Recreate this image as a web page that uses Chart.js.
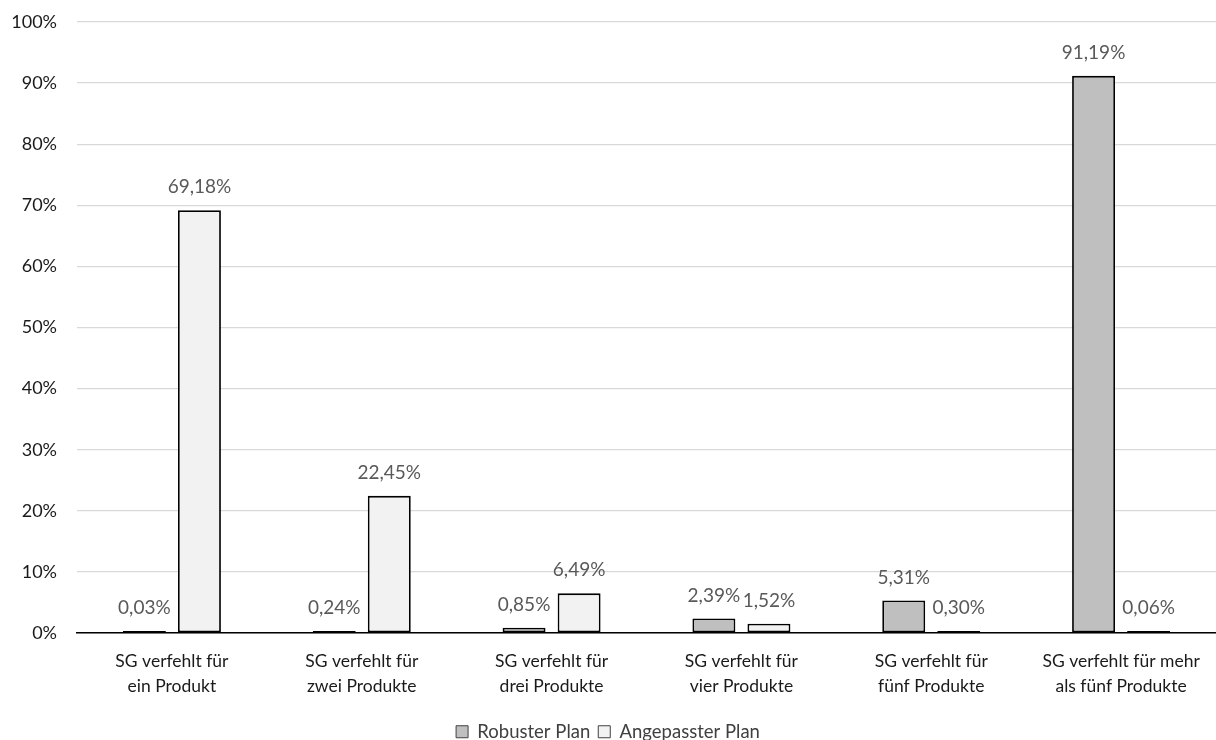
<!DOCTYPE html>
<html>
<head>
<meta charset="utf-8">
<script src="https://cdn.jsdelivr.net/npm/chart.js@4/dist/chart.umd.min.js"></script>
<style>
  html, body { margin: 0; padding: 0; background: #fff; }
  #wrap { width: 1216px; height: 740px; }
</style>
</head>
<body>
<div id="wrap"><canvas id="c" width="1216" height="740"></canvas></div>
<script>
// Categories (two-line axis labels)
const categories = [
  ["SG verfehlt für", "ein Produkt"],
  ["SG verfehlt für", "zwei Produkte"],
  ["SG verfehlt für", "drei Produkte"],
  ["SG verfehlt für", "vier Produkte"],
  ["SG verfehlt für", "fünf Produkte"],
  ["SG verfehlt für mehr", "als fünf Produkte"]
];
const seriesNames = ["Robuster Plan", "Angepasster Plan"];
// Shares in percent
const robusterPlan = [0.03, 0.24, 0.85, 2.39, 5.31, 91.19];
const angepassterPlan = [69.18, 22.45, 6.49, 1.52, 0.30, 0.06];
const yTicks = [0, 10, 20, 30, 40, 50, 60, 70, 80, 90, 100];

const FONT = "Lato, 'Open Sans', sans-serif";
const fmt = v => v.toFixed(2).replace('.', ',') + '%';

// Value labels drawn above each bar
const valueLabels = {
  id: 'valueLabels',
  afterDatasetsDraw(chart) {
    const ctx = chart.ctx;
    ctx.save();
    ctx.font = "19px " + FONT;
    ctx.fillStyle = '#595959';
    ctx.textAlign = 'center';
    ctx.textBaseline = 'middle';
    chart.data.datasets.forEach((ds, i) => {
      chart.getDatasetMeta(i).data.forEach((bar, j) => {
        const top = Math.min(bar.y, bar.base);
        ctx.fillText(fmt(ds.data[j]), bar.x, top - 23);
      });
    });
    ctx.restore();
  }
};

new Chart(document.getElementById('c'), {
  type: 'bar',
  data: {
    labels: categories,
    datasets: [
      {
        label: seriesNames[0],
        data: robusterPlan,
        backgroundColor: '#bfbfbf',
        borderColor: '#000000',
        borderWidth: 1.8,
        borderSkipped: false,
        minBarLength: 2
      },
      {
        label: seriesNames[1],
        data: angepassterPlan,
        backgroundColor: '#f2f2f2',
        borderColor: '#000000',
        borderWidth: 1.8,
        borderSkipped: false,
        minBarLength: 2
      }
    ]
  },
  options: {
    responsive: false,
    animation: false,
    devicePixelRatio: 1,
    layout: { padding: { top: 22, right: 0, left: 0, bottom: -11 } },
    datasets: { bar: { categoryPercentage: 0.58, barPercentage: 0.78 } },
    scales: {
      x: {
        grid: { display: false },
        border: { display: true, color: '#000000', width: 1.5 },
        ticks: {
          color: '#1a1a1a',
          font: { family: FONT, size: 17.5, lineHeight: 1.43 },
          padding: 8,
          maxRotation: 0,
          autoSkip: false
        },
        afterFit(scale) { scale.height = 81.5; scale.paddingLeft = 0; scale.paddingRight = 0; }
      },
      y: {
        min: 0,
        max: 100,
        afterBuildTicks(scale) { scale.ticks = yTicks.map(v => ({ value: v })); },
        grid: { color: '#d9d9d9', lineWidth: 1.3, drawTicks: false },
        border: { display: false },
        ticks: {
          color: '#1a1a1a',
          font: { family: FONT, size: 18 },
          padding: 20,
          callback: v => v + '%'
        },
        afterFit(scale) { scale.width = 77; scale.paddingTop = 0; scale.paddingBottom = 0; }
      }
    },
    plugins: {
      legend: {
        position: 'bottom',
        labels: {
          color: '#404040',
          font: { family: FONT, size: 18.5 },
          boxWidth: 12,
          boxHeight: 12,
          padding: 8,
          useBorderRadius: false,
          generateLabels(chart) {
            return chart.data.datasets.map((ds, i) => ({
              text: ds.label,
              fillStyle: ds.backgroundColor,
              strokeStyle: '#404040',
              lineWidth: 1,
              datasetIndex: i,
              fontColor: '#404040'
            }));
          }
        }
      },
      tooltip: { enabled: false }
    }
  },
  plugins: [valueLabels]
});
</script>
</body>
</html>
